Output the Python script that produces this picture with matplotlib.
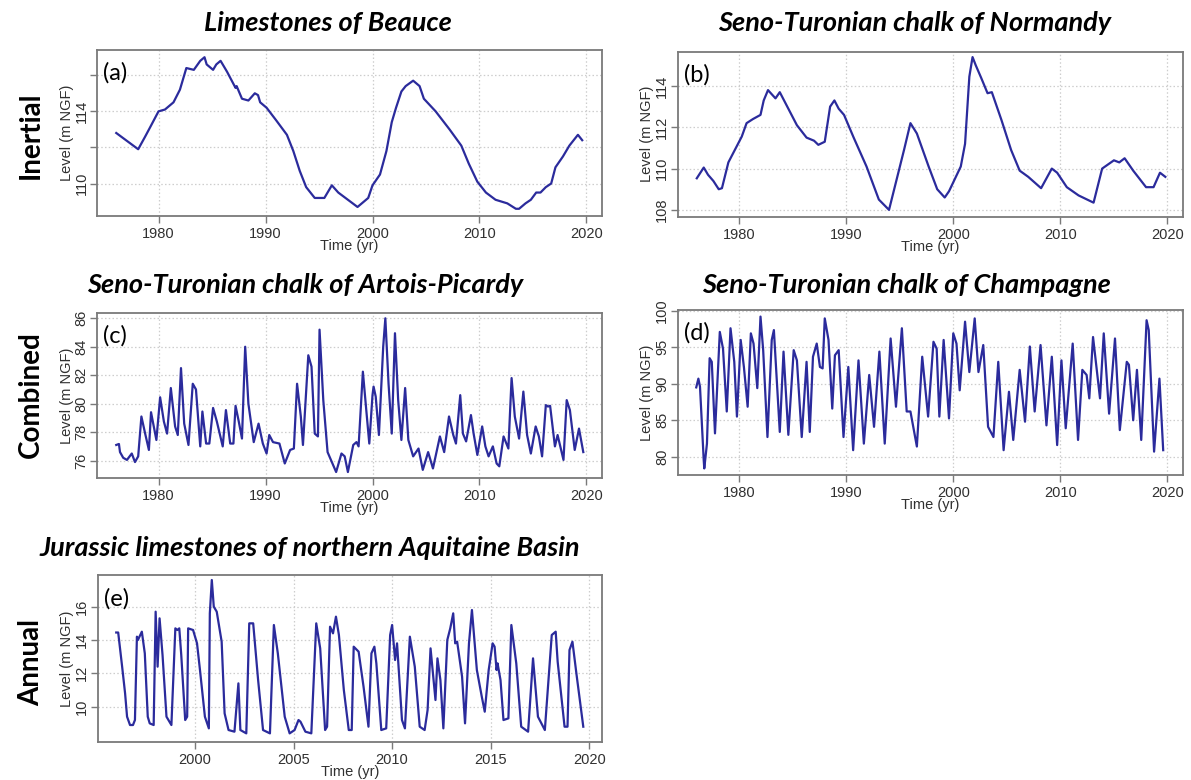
import matplotlib
matplotlib.use("Agg")
import matplotlib.pyplot as plt
import numpy as np

# ---------------- data ----------------
years_a = [1976.05, 1978.1, 1978.75, 1979.2, 1980.0, 1980.6, 1981.4, 1982.0, 1982.6, 1983.3, 1983.9, 1984.3,
           1984.5, 1985.1, 1985.4, 1985.8, 1986.4, 1987.2, 1987.3, 1987.8, 1988.4, 1989.0, 1989.3, 1989.5,
           1990.1, 1991.0, 1992.0, 1992.6, 1993.2, 1993.8, 1994.6, 1995.5, 1995.8, 1996.2, 1996.8, 1997.7,
           1998.6, 1999.6, 2000.0, 2000.7, 2001.3, 2001.8, 2002.2, 2002.7, 2003.1, 2003.8, 2004.4, 2004.8,
           2005.9, 2007.2, 2008.3, 2009.0, 2009.8, 2010.6, 2011.5, 2012.6, 2013.4, 2013.7, 2014.3, 2014.8,
           2015.3, 2015.7, 2016.2, 2016.7, 2017.1, 2017.8, 2018.4, 2019.2, 2019.6]
level_a = [112.8, 111.9, 112.6, 113.1, 114.0, 114.1, 114.5, 115.2, 116.4, 116.3, 116.8, 117.0,
           116.6, 116.3, 116.6, 116.8, 116.2, 115.3, 115.4, 114.7, 114.6, 115.0, 114.9, 114.5,
           114.2, 113.5, 112.7, 111.8, 110.7, 109.8, 109.2, 109.2, 109.5, 109.9, 109.5, 109.1,
           108.7, 109.2, 109.9, 110.5, 111.8, 113.4, 114.2, 115.1, 115.4, 115.7, 115.4, 114.7,
           114.0, 113.0, 112.1, 111.1, 110.1, 109.5, 109.1, 108.9, 108.6, 108.6, 108.9, 109.1,
           109.5, 109.5, 109.8, 110.0, 110.9, 111.5, 112.1, 112.7, 112.4]

years_b = [1976.05, 1976.7, 1977.1, 1977.6, 1978.1, 1978.4, 1979.0, 1979.5, 1980.25, 1980.7, 1981.3, 1982.0,
           1982.3, 1982.7, 1983.4, 1983.8, 1984.4, 1985.4, 1986.3, 1987.0, 1987.4, 1988.0, 1988.5, 1988.9,
           1989.3, 1989.8, 1990.7, 1991.9, 1993.05, 1994.0, 1994.7, 1995.4, 1996.0, 1996.6, 1997.7, 1998.5,
           1999.2, 1999.6, 2000.7, 2001.1, 2001.5, 2001.8, 2002.1, 2002.6, 2003.2, 2003.6, 2004.5, 2005.4,
           2006.2, 2007.0, 2008.2, 2009.2, 2009.7, 2010.6, 2011.7, 2013.1, 2013.9, 2015.0, 2015.5, 2016.0,
           2016.8, 2018.0, 2018.7, 2019.3, 2019.8]
level_b = [109.53, 110.05, 109.7, 109.4, 109.0, 109.05, 110.3, 110.8, 111.55, 112.2, 112.4, 112.6,
           113.3, 113.8, 113.4, 113.7, 113.1, 112.1, 111.5, 111.35, 111.15, 111.3, 113.0, 113.3,
           112.9, 112.6, 111.5, 110.1, 108.5, 108.0, 109.45, 110.9, 112.2, 111.7, 110.1, 109.0,
           108.6, 108.9, 110.1, 111.2, 114.45, 115.4, 115.0, 114.4, 113.65, 113.7, 112.35, 110.9,
           109.9, 109.6, 109.05, 110.0, 109.8, 109.1, 108.7, 108.35, 110.0, 110.4, 110.3, 110.5,
           109.9, 109.1, 109.1, 109.8, 109.6]

years_c = [1976.05, 1976.3, 1976.4, 1976.7, 1977.05, 1977.5, 1977.8, 1978.1, 1978.4, 1978.75, 1979.1, 1979.3,
           1979.8, 1980.15, 1980.5, 1980.8, 1981.15, 1981.55, 1981.8, 1982.1, 1982.4, 1982.8, 1983.2, 1983.5,
           1983.9, 1984.1, 1984.45, 1984.75, 1985.1, 1985.45, 1986.0, 1986.3, 1986.7, 1987.0, 1987.2, 1987.5,
           1987.8, 1988.1, 1988.4, 1988.9, 1989.35, 1989.75, 1990.1, 1990.35, 1990.7, 1991.3, 1991.8, 1992.3,
           1992.65, 1992.95, 1993.3, 1993.5, 1994.0, 1994.3, 1994.6, 1994.9, 1995.05, 1995.4, 1995.8, 1996.6,
           1997.1, 1997.4, 1997.7, 1998.2, 1998.5, 1998.7, 1999.1, 1999.4, 1999.7, 2000.0, 2000.1, 2000.3,
           2000.6, 2001.0, 2001.2, 2001.5, 2001.8, 2002.1, 2002.4, 2002.7, 2003.05, 2003.35, 2003.8, 2004.3,
           2004.7, 2005.2, 2005.65, 2006.3, 2006.7, 2007.15, 2007.55, 2007.8, 2008.2, 2008.45, 2008.75, 2009.2,
           2009.45, 2009.8, 2010.25, 2010.55, 2010.85, 2011.25, 2011.6, 2011.85, 2012.25, 2012.7, 2013.0, 2013.3,
           2013.7, 2014.1, 2014.45, 2014.8, 2015.25, 2015.55, 2015.85, 2016.2, 2016.4, 2016.6, 2017.05, 2017.3,
           2017.85, 2018.15, 2018.45, 2018.9, 2019.3, 2019.7]
level_c = [77.1, 77.17, 76.6, 76.2, 76.05, 76.5, 75.9, 76.3, 79.1, 77.9, 76.75, 79.4,
           77.45, 80.45, 78.75, 77.9, 81.1, 78.4, 77.8, 82.5, 78.6, 77.1, 81.4, 81.0,
           77.0, 79.45, 77.2, 77.2, 79.7, 78.75, 77.0, 79.55, 77.2, 77.2, 79.85, 78.75,
           77.55, 84.0, 80.0, 77.3, 78.6, 77.2, 76.5, 77.8, 77.3, 77.2, 75.8, 76.75,
           76.85, 81.4, 79.1, 77.1, 83.4, 82.6, 77.9, 77.7, 85.2, 80.25, 76.6, 75.2,
           76.5, 76.3, 75.2, 77.1, 77.3, 77.0, 82.25, 79.7, 77.2, 80.6, 81.2, 80.5,
           77.8, 84.0, 86.0, 81.4, 77.9, 84.95, 80.25, 77.45, 81.1, 77.45, 76.3, 76.85,
           75.35, 76.6, 75.45, 77.7, 76.6, 79.1, 77.8, 77.2, 80.6, 77.9, 77.35, 79.2,
           77.9, 76.4, 78.4, 77.0, 76.3, 77.0, 75.8, 75.6, 77.7, 76.85, 81.8, 79.1,
           77.55, 80.85, 77.8, 76.5, 78.4, 77.7, 76.3, 79.9, 79.8, 79.85, 77.0, 77.8,
           76.05, 80.25, 79.55, 76.75, 78.25, 76.6]

years_d = [1976.0, 1976.2, 1976.35, 1976.7, 1976.75, 1977.0, 1977.25, 1977.45, 1977.75, 1978.2, 1978.5, 1978.85,
           1979.2, 1979.55, 1979.8, 1980.15, 1980.45, 1980.8, 1981.1, 1981.35, 1981.7, 1982.0, 1982.25, 1982.65,
           1983.05, 1983.25, 1983.8, 1984.15, 1984.6, 1985.1, 1985.4, 1985.85, 1986.3, 1986.6, 1986.9, 1987.25,
           1987.55, 1987.8, 1988.0, 1988.35, 1988.7, 1988.95, 1989.3, 1989.75, 1990.2, 1990.65, 1991.15, 1991.65,
           1992.15, 1992.6, 1993.1, 1993.6, 1994.15, 1994.65, 1995.2, 1995.65, 1996.0, 1996.6, 1997.1, 1997.65,
           1998.15, 1998.45, 1998.7, 1999.1, 1999.6, 2000.0, 2000.3, 2000.6, 2001.1, 2001.5, 2002.0, 2002.35,
           2002.8, 2003.25, 2003.75, 2004.2, 2004.7, 2005.2, 2005.6, 2006.2, 2006.7, 2007.15, 2007.6, 2008.15,
           2008.7, 2009.2, 2009.7, 2010.1, 2010.5, 2011.15, 2011.65, 2012.05, 2012.45, 2012.7, 2013.05, 2013.7,
           2014.05, 2014.55, 2015.1, 2015.55, 2016.2, 2016.4, 2016.8, 2017.15, 2017.55, 2018.05, 2018.25, 2018.75,
           2019.25, 2019.6]
level_d = [89.5, 90.7, 89.6, 79.5, 78.4, 81.8, 93.5, 93.0, 83.2, 97.1, 94.8, 86.2,
           97.6, 93.0, 85.5, 96.0, 92.3, 86.85, 96.9, 95.5, 89.4, 99.2, 94.6, 82.7,
           96.0, 97.35, 83.4, 94.4, 83.0, 94.6, 93.2, 82.7, 93.0, 83.4, 93.7, 95.5,
           92.3, 92.1, 98.95, 96.0, 86.6, 93.9, 94.6, 82.7, 92.3, 80.9, 93.2, 81.8,
           91.2, 84.1, 94.4, 81.8, 96.2, 86.85, 97.6, 86.2, 86.2, 81.4, 93.7, 85.5,
           95.75, 94.8, 85.5, 96.0, 85.25, 96.9, 95.5, 89.1, 98.5, 91.6, 98.95, 91.6,
           95.3, 84.1, 82.7, 93.0, 80.9, 88.9, 82.3, 91.9, 84.8, 95.1, 86.2, 95.3,
           84.3, 93.7, 81.6, 93.2, 83.9, 95.5, 82.3, 91.9, 91.2, 88.0, 96.4, 88.0,
           96.9, 85.9, 96.2, 83.65, 93.0, 92.6, 85.0, 91.9, 82.3, 98.7, 97.35, 80.7,
           90.7, 80.9]

years_e = [1996.0, 1996.1, 1996.3, 1996.45, 1996.55, 1996.7, 1996.85, 1996.95, 1997.05, 1997.1, 1997.3, 1997.45,
           1997.6, 1997.7, 1997.9, 1998.0, 1998.1, 1998.2, 1998.35, 1998.55, 1998.8, 1999.0, 1999.1, 1999.2,
           1999.3, 1999.5, 1999.6, 1999.65, 1999.9, 2000.1, 2000.25, 2000.5, 2000.7, 2000.75, 2000.85, 2000.95,
           2001.1, 2001.35, 2001.5, 2001.7, 2002.0, 2002.2, 2002.3, 2002.6, 2002.75, 2002.95, 2003.2, 2003.45,
           2003.8, 2004.0, 2004.2, 2004.55, 2004.8, 2005.05, 2005.25, 2005.35, 2005.6, 2005.9, 2006.15, 2006.35,
           2006.6, 2006.7, 2006.85, 2007.0, 2007.15, 2007.3, 2007.55, 2007.8, 2007.95, 2008.05, 2008.3, 2008.55,
           2008.8, 2008.95, 2009.1, 2009.2, 2009.45, 2009.7, 2009.9, 2010.0, 2010.15, 2010.25, 2010.5, 2010.65,
           2010.9, 2011.15, 2011.4, 2011.65, 2011.8, 2011.95, 2012.2, 2012.3, 2012.45, 2012.6, 2012.8, 2012.95,
           2013.1, 2013.2, 2013.3, 2013.55, 2013.7, 2013.9, 2014.05, 2014.3, 2014.55, 2014.7, 2014.9, 2015.1,
           2015.2, 2015.3, 2015.35, 2015.5, 2015.65, 2015.9, 2016.05, 2016.3, 2016.55, 2016.9, 2017.15, 2017.4,
           2017.75, 2018.1, 2018.3, 2018.4, 2018.75, 2018.9, 2019.0, 2019.15, 2019.35, 2019.7]
level_e = [14.45, 14.45, 12.4, 10.8, 9.4, 8.9, 8.9, 9.2, 14.2, 14.0, 14.5, 13.2,
           9.4, 9.0, 8.9, 15.7, 12.4, 15.3, 13.1, 9.4, 8.9, 14.7, 14.6, 14.7,
           13.1, 9.2, 9.4, 14.7, 14.6, 13.8, 12.2, 9.4, 8.7, 15.6, 17.6, 16.0,
           15.7, 13.9, 9.6, 8.6, 8.5, 11.4, 8.6, 8.4, 15.0, 15.0, 11.6, 8.6,
           8.4, 14.9, 13.2, 9.4, 8.4, 8.6, 9.2, 9.1, 8.5, 8.4, 15.0, 13.5,
           8.6, 8.8, 14.8, 14.4, 15.4, 14.3, 11.0, 8.6, 8.6, 13.6, 13.3, 11.2,
           8.8, 13.2, 13.6, 12.6, 8.6, 8.7, 14.3, 14.9, 12.8, 13.8, 9.2, 8.7,
           14.2, 12.4, 8.8, 8.6, 9.8, 13.5, 10.4, 12.9, 11.6, 8.7, 14.0, 14.7,
           15.6, 13.8, 13.9, 11.8, 9.0, 13.8, 15.8, 12.2, 10.6, 9.7, 12.2, 13.8,
           13.6, 12.2, 12.6, 11.6, 9.2, 9.3, 14.9, 12.6, 8.8, 8.5, 12.9, 9.4,
           8.6, 14.3, 14.5, 12.7, 8.8, 8.8, 13.4, 13.9, 12.0, 8.8]

xticks_main = [1980, 1990, 2000, 2010, 2020]
xticks_e = [2000, 2005, 2010, 2015, 2020]
yticks_a = [110, 112, 114, 116]
ylabels_a = ["110", "", "114", ""]
yticks_b = [108, 110, 112, 114]
ylabels_b = ["108", "110", "112", "114"]
yticks_c = [76, 78, 80, 82, 84, 86]
ylabels_c = ["76", "78", "80", "82", "84", "86"]
yticks_d = [80, 85, 90, 95, 100]
ylabels_d = ["80", "85", "90", "95", "100"]
yticks_e = [10, 12, 14, 16]
ylabels_e = ["10", "12", "14", "16"]

titles = ["Limestones of Beauce", "Seno-Turonian chalk of Normandy",
          "Seno-Turonian chalk of Artois-Picardy", "Seno-Turonian chalk of Champagne",
          "Jurassic limestones of northern Aquitaine Basin"]
panel_tags = ["(a)", "(b)", "(c)", "(d)", "(e)"]
row_labels = ["Inertial", "Combined", "Annual"]

# ---------------- layout ----------------
W, H = 1191, 780
fig = plt.figure(figsize=(W / 100, H / 100), dpi=100)
fig.patch.set_facecolor("white")

LINE = "#2b2b9c"
BOX = "#7a7a7a"
TXT = "#303030"
GRID = "#cdcdcd"


def px_axes(l, t, r, b):
    return fig.add_axes([l / W, 1 - b / H, (r - l) / W, (b - t) / H])


panels = [
    dict(box=(97, 50, 602, 216), x=years_a, y=level_a, xl=(1974.25, 2021.45), yl=(108.2, 117.4),
         xt=xticks_main, yt=yticks_a, ytl=ylabels_a),
    dict(box=(677.5, 51.7, 1183, 216.7), x=years_b, y=level_b, xl=(1974.25, 2021.45), yl=(107.67, 115.66),
         xt=xticks_main, yt=yticks_b, ytl=ylabels_b),
    dict(box=(97, 313, 602, 478), x=years_c, y=level_c, xl=(1974.25, 2021.45), yl=(74.78, 86.37),
         xt=xticks_main, yt=yticks_c, ytl=ylabels_c),
    dict(box=(677.5, 310, 1183, 475), x=years_d, y=level_d, xl=(1974.25, 2021.45), yl=(77.5, 100.1),
         xt=xticks_main, yt=yticks_d, ytl=ylabels_d),
    dict(box=(97.5, 575, 602, 741.7), x=years_e, y=level_e, xl=(1995.05, 2020.65), yl=(7.9, 17.9),
         xt=xticks_e, yt=yticks_e, ytl=ylabels_e),
]

for i, p in enumerate(panels):
    l, t, r, b = p["box"]
    ax = px_axes(l, t, r, b)
    ax.plot(p["x"], p["y"], color=LINE, lw=1.6, solid_joinstyle="round")
    ax.set_xlim(*p["xl"])
    ax.set_ylim(*p["yl"])
    ax.set_xticks(p["xt"])
    ax.set_xticklabels([str(v) for v in p["xt"]])
    ax.set_yticks(p["yt"])
    ax.set_yticklabels(p["ytl"], rotation=90, va="center")
    ax.grid(True, color=GRID, linestyle=(0, (1.2, 1.8)), lw=0.9)
    ax.set_axisbelow(True)
    for s in ax.spines.values():
        s.set_color(BOX)
        s.set_linewidth(1.3)
    ax.tick_params(axis="both", direction="out", length=5, width=1.0, color=BOX,
                   labelsize=10.5, labelcolor=TXT, pad=2)
    ax.tick_params(axis="x", pad=3)
    ax.tick_params(axis="y", pad=1)
    for lab in ax.get_xticklabels() + ax.get_yticklabels():
        lab.set_family("Liberation Sans")
    fig.text((l + r) / 2 / W, 1 - (b + 30) / H, "Time (yr)", ha="center", va="center",
             fontsize=10.5, color=TXT, family="Liberation Sans")
    fig.text((l - 30) / W, 1 - (t + b) / 2 / H, "Level (m NGF)", ha="center", va="center",
             rotation=90, fontsize=10.5, color=TXT, family="Liberation Sans")
    ax.text(0.012, 0.86, panel_tags[i], transform=ax.transAxes, fontsize=17,
            family="Lato", color="black", va="center", ha="left")

# panel titles
title_pos = [(328, 23), (915, 23), (305, 285), (906, 285), (310, 548)]
for txt, (x, y) in zip(titles, title_pos):
    fig.text(x / W, 1 - y / H, txt, ha="center", va="center", fontsize=19.5,
             fontweight="bold", fontstyle="italic", family="Lato", color="black")

# row labels
row_pos = [(31, 135), (31, 395), (31, 662)]
for txt, (x, y) in zip(row_labels, row_pos):
    fig.text(x / W, 1 - y / H, txt, ha="center", va="center", rotation=90,
             fontsize=20, fontweight="bold", family="Lato", color="black")

fig.savefig("out.png", dpi=100, facecolor="white")
